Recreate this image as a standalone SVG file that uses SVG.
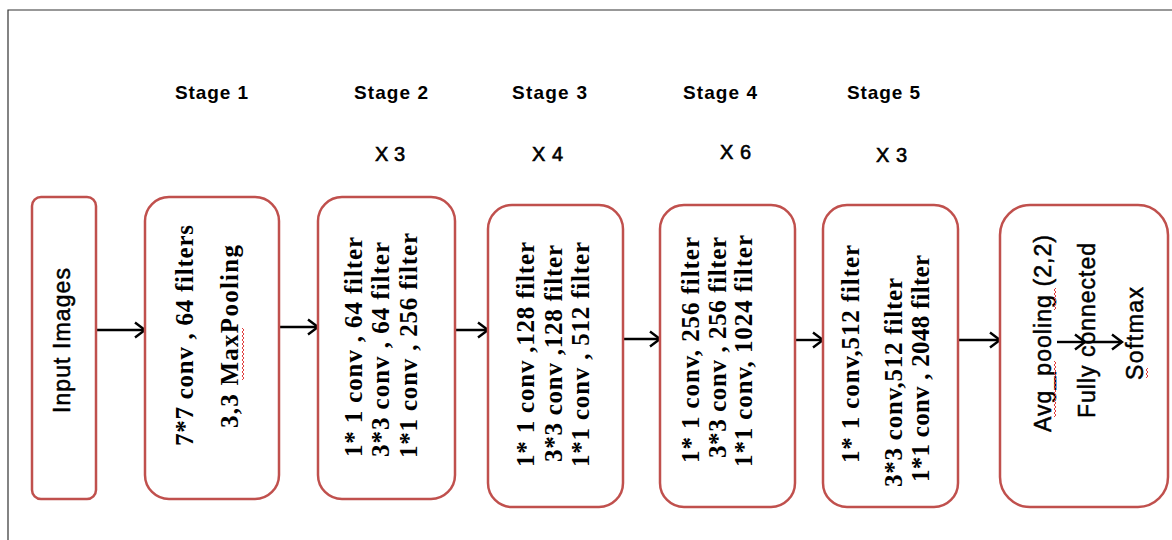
<svg xmlns="http://www.w3.org/2000/svg" width="1172" height="540" viewBox="0 0 1172 540">
<style>
.box{fill:#fff;stroke:#C0504D;stroke-width:2.5}
.frame{fill:none;stroke:#333;stroke-width:1.2}
.conn{stroke:#000;stroke-width:2.4;fill:none}
.ser{font-family:"Liberation Serif","Times New Roman",serif;font-weight:bold;font-size:25px;fill:#000}
.sans{font-family:"Liberation Sans",Arial,sans-serif;font-size:23px;fill:#000;stroke:#000;stroke-width:0.5}
.stage{font-family:"Liberation Sans",Arial,sans-serif;font-weight:bold;font-size:19px;fill:#000}
.rep{font-family:"Liberation Sans",Arial,sans-serif;font-size:20px;fill:#000;stroke:#000;stroke-width:0.6}
.sq{fill:none;stroke:#E03C3C;stroke-width:1}
</style>
<defs>
<marker id="arr" markerUnits="userSpaceOnUse" markerWidth="14" markerHeight="18" viewBox="0 0 14 18" refX="12" refY="9" orient="auto">
<path d="M2,1.5 L12,9 L2,16.5" fill="none" stroke="#000" stroke-width="2.4"/>
</marker>
</defs>
<rect width="1172" height="540" fill="#fff"/>
<path class="frame" d="M8,540 V10 H1172"/>

<g id="labels">
<text class="stage" x="175" y="99" textLength="73" lengthAdjust="spacing">Stage 1</text>
<text class="stage" x="354" y="99" textLength="74" lengthAdjust="spacing">Stage 2</text>
<text class="stage" x="512" y="99" textLength="75" lengthAdjust="spacing">Stage 3</text>
<text class="stage" x="683" y="99" textLength="74" lengthAdjust="spacing">Stage 4</text>
<text class="stage" x="847" y="99" textLength="73" lengthAdjust="spacing">Stage 5</text>
<text class="rep" x="375" y="161" textLength="30" lengthAdjust="spacing">X 3</text>
<text class="rep" x="532" y="161" textLength="31" lengthAdjust="spacing">X 4</text>
<text class="rep" x="720" y="159" textLength="31" lengthAdjust="spacing">X 6</text>
<text class="rep" x="876" y="162" textLength="31" lengthAdjust="spacing">X 3</text>
</g>

<g id="connectors">
<line class="conn" x1="96" y1="330" x2="145" y2="330" marker-end="url(#arr)"/>
<line class="conn" x1="279" y1="327" x2="318" y2="327" marker-end="url(#arr)"/>
<line class="conn" x1="455" y1="330" x2="488" y2="330" marker-end="url(#arr)"/>
<line class="conn" x1="623" y1="339" x2="660" y2="339" marker-end="url(#arr)"/>
<line class="conn" x1="795" y1="340" x2="823" y2="340" marker-end="url(#arr)"/>
<line class="conn" x1="958" y1="340" x2="1000" y2="340" marker-end="url(#arr)"/>
</g>

<g id="input">
<rect class="box" x="32" y="197" width="64" height="302" rx="9"/>
<text class="sans" font-size="21" transform="translate(70,413) rotate(-90)" textLength="145" lengthAdjust="spacing">Input Images</text>
</g>

<g id="stage1">
<rect class="box" x="145" y="197" width="134" height="302" rx="24"/>
<text class="ser" transform="translate(193,446) rotate(-90)" textLength="221" lengthAdjust="spacing">7*7 conv , 64 filters</text>
<text class="ser" transform="translate(238,428) rotate(-90)" textLength="183" lengthAdjust="spacing">3,3 MaxPooling</text>
<path class="sq" d="M242,380 l2,-2 l-2,-2 l2,-2 l-2,-2 l2,-2 l-2,-2 l2,-2 l-2,-2 l2,-2 l-2,-2 l2,-2 l-2,-2 l2,-2 l-2,-2 l2,-2 l-2,-2 l2,-2 l-2,-2 l2,-2 l-2,-2 l2,-2 l-2,-2 l2,-2 l-2,-2 l2,-2 l-2,-2"/>
</g>

<g id="stage2">
<rect class="box" x="318" y="197" width="137" height="302" rx="24"/>
<text class="ser" transform="translate(362,457) rotate(-90)" textLength="220" lengthAdjust="spacing">1* 1 conv , 64 filter</text>
<text class="ser" transform="translate(389,457) rotate(-90)" textLength="215" lengthAdjust="spacing">3*3 conv , 64 filter</text>
<text class="ser" transform="translate(417,458) rotate(-90)" textLength="225" lengthAdjust="spacing">1*1 conv , 256 filter</text>
</g>

<g id="stage3">
<rect class="box" x="488" y="205" width="135" height="302" rx="24"/>
<text class="ser" transform="translate(534,467) rotate(-90)" textLength="225" lengthAdjust="spacing">1* 1 conv ,128 filter</text>
<text class="ser" transform="translate(562,462) rotate(-90)" textLength="217" lengthAdjust="spacing">3*3 conv ,128 filter</text>
<text class="ser" transform="translate(589,467) rotate(-90)" textLength="225" lengthAdjust="spacing">1*1 conv , 512 filter</text>
</g>

<g id="stage4">
<rect class="box" x="660" y="205" width="135" height="302" rx="24"/>
<text class="ser" transform="translate(699,463) rotate(-90)" textLength="226" lengthAdjust="spacing">1* 1 conv,  256 filter</text>
<text class="ser" transform="translate(726,458) rotate(-90)" textLength="221" lengthAdjust="spacing">3*3 conv  ,  256 filter</text>
<text class="ser" transform="translate(752,467) rotate(-90)" textLength="232" lengthAdjust="spacing">1*1 conv, 1024 filter</text>
</g>

<g id="stage5">
<rect class="box" x="823" y="205" width="135" height="302" rx="24"/>
<text class="ser" transform="translate(859,463) rotate(-90)" textLength="218" lengthAdjust="spacing">1* 1 conv,512 filter</text>
<text class="ser" transform="translate(902,487) rotate(-90)" textLength="209" lengthAdjust="spacing">3*3 conv,512 filter</text>
<text class="ser" transform="translate(929,482) rotate(-90)" textLength="227" lengthAdjust="spacing">1*1 conv , 2048 filter</text>
</g>

<g id="final">
<rect class="box" x="1000" y="205" width="168" height="302" rx="30"/>
<text class="sans" transform="translate(1051,432) rotate(-90)" textLength="197" lengthAdjust="spacing">Avg_pooling (2,2)</text>
<text class="sans" transform="translate(1095,418) rotate(-90)" textLength="175" lengthAdjust="spacing">Fully connected</text>
<text class="sans" transform="translate(1143,380) rotate(-90)" textLength="93" lengthAdjust="spacing">Softmax</text>
<path class="sq" d="M1054,417 l2,-2 l-2,-2 l2,-2 l-2,-2 l2,-2 l-2,-2 l2,-2 l-2,-2 l2,-2 l-2,-2 l2,-2 l-2,-2 l2,-2 l-2,-2 l2,-2 l-2,-2 l2,-2 l-2,-2 l2,-2 l-2,-2 l2,-2 l-2,-2 l2,-2 l-2,-2 l2,-2 l-2,-2 l2,-2 l-2,-2"/>
<path class="sq" d="M1054,310 l2,-2 l-2,-2 l2,-2 l-2,-2 l2,-2 l-2,-2 l2,-2 l-2,-2 l2,-2 l-2,-2 l2,-2"/>
<path class="sq" d="M1146,378 l2,-2 l-2,-2 l2,-2 l-2,-2 l2,-2"/>
<line class="conn" x1="1057" y1="342" x2="1085" y2="342" marker-end="url(#arr)"/>
<line class="conn" x1="1085" y1="342" x2="1122" y2="342" marker-end="url(#arr)"/>
</g>
</svg>
